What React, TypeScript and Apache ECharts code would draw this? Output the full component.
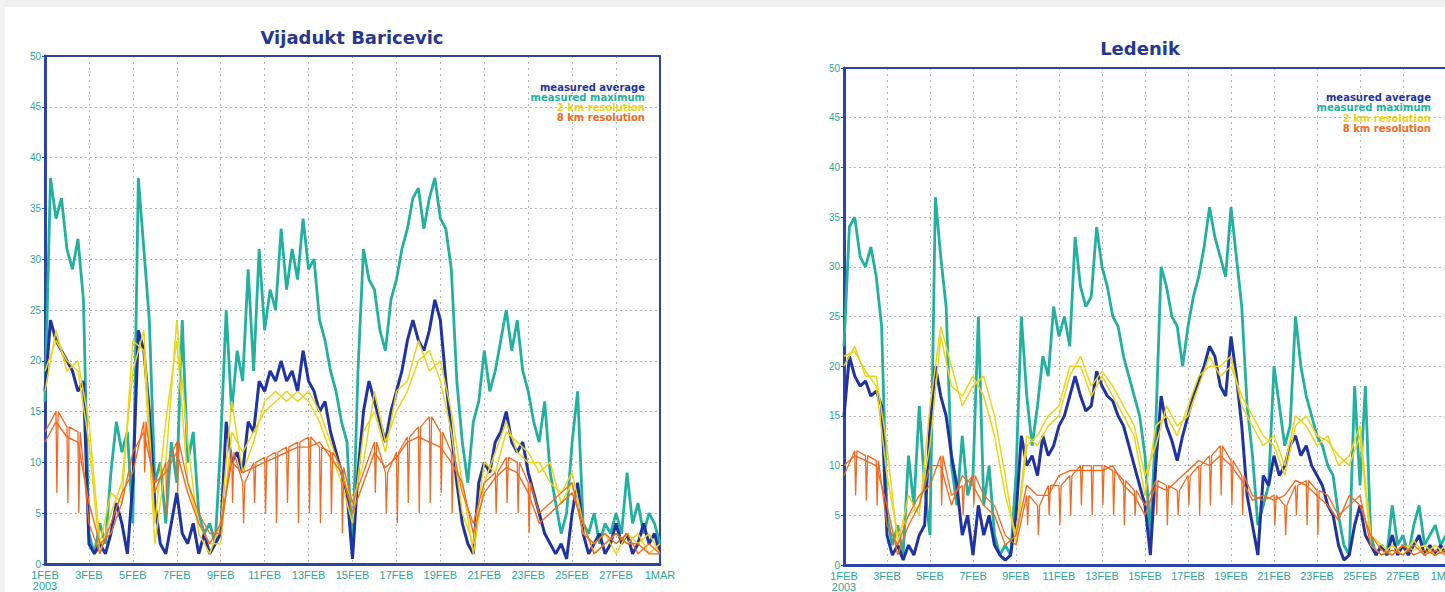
import React, { useEffect, useRef } from "react";
import * as echarts from "echarts";

// ---------- tick labels / texts ----------
const xTickLabels = ["1FEB", "3FEB", "5FEB", "7FEB", "9FEB", "11FEB", "13FEB", "15FEB", "17FEB", "19FEB", "21FEB", "23FEB", "25FEB", "27FEB", "1MAR"];
const yearLabel = "2003";
const panelTitles = ["Vijadukt Baricevic", "Ledenik"];
const legendLabels = ["measured average", "measured maximum", "2 km resolution", "8 km resolution"];

// ---------- Vijadukt Baricevic (step 0.25 day for measured, 0.5 day for model) ----------
const baricevicMax = [
  16, 38, 34, 36, 31, 29, 32, 26, 3, 1, 4, 2, 9, 14, 11, 13,
  4, 38, 31, 24, 8, 10, 4, 12, 8, 24, 10, 13, 5, 3, 4, 2,
  12, 25, 15, 21, 18, 29, 19, 31, 23, 27, 25, 33, 27, 31, 28, 34,
  29, 30, 24, 22, 19, 17, 14, 12, 1, 19, 31, 28, 27, 23, 21, 26,
  28, 31, 33, 36, 37, 33, 36, 38, 34, 33, 29, 18, 12, 8, 14, 16,
  21, 17, 19, 22, 25, 21, 24, 19, 17, 14, 12, 16, 9, 6, 3, 5,
  12, 17, 4, 3, 5, 2, 4, 3, 5, 3, 9, 4, 6, 3, 5, 4,
  2,
];
const baricevicAvg = [
  17, 24, 22, 21, 20, 19, 17, 18, 2, 1, 2, 1, 3, 6, 4, 1,
  8, 23, 21, 15, 6, 2, 1, 4, 7, 3, 2, 4, 1, 3, 1, 2,
  3, 14, 10, 11, 9, 14, 13, 18, 17, 19, 18, 20, 18, 19, 17, 21,
  18, 17, 15, 16, 13, 11, 9, 7, 0.5, 9, 15, 18, 16, 14, 12, 15,
  17, 19, 22, 24, 22, 21, 23, 26, 24, 18, 13, 8, 4, 2, 1, 8,
  10, 9, 12, 13, 15, 12, 11, 12, 9, 7, 5, 3, 2, 1, 2, 0.5,
  5, 8, 3, 1, 2, 3, 1, 2, 4, 2, 3, 1, 2, 4, 2, 3,
  1,
];
const baricevic2kmA = [
  19, 22, 20, 19, 12, 1, 5, 8, 19, 23, 4, 14, 22, 8, 4, 2,
  2, 13, 11, 13, 15, 16, 17, 16, 17, 15, 12, 9, 6, 10, 17, 12,
  15, 17, 20, 21, 18, 13, 5, 2, 10, 9, 13, 12, 11, 9, 10, 6,
  8, 3, 2, 3, 1, 3, 2, 3, 1,
];
const baricevic2kmB = [
  17, 23, 19, 20, 14, 2, 7, 6, 22, 21, 2, 10, 24, 12, 3, 1,
  4, 16, 9, 12, 16, 17, 16, 17, 16, 14, 11, 8, 4, 13, 15, 11,
  17, 18, 22, 19, 20, 15, 8, 1, 8, 11, 14, 11, 10, 10, 8, 7,
  9, 4, 1, 2, 3, 2, 3, 1, 2,
];
const baricevic8kmA = [
  13, 15, 13.5, 13, 4, 1, 4, 7, 9, 14, 7, 10, 12, 8, 5, 3,
  3, 11, 8, 10, 10.5, 11, 11.5, 12, 12.5, 11.5, 11, 9.5, 6, 9, 12, 9,
  11, 12.5, 13.5, 14.5, 13, 11, 7, 4, 8, 9, 10.5, 10, 8, 5, 6, 7,
  8, 3, 2, 3, 2, 3, 1, 2, 1,
];
const baricevic8kmB = [
  12, 14, 12.5, 12, 6, 2, 3, 6, 11, 13, 8, 9, 11, 7, 4, 2,
  4, 10, 9, 9.5, 10, 10.5, 11, 11.5, 11.5, 12, 10.5, 9, 5, 8, 11, 9.5,
  10.5, 12, 12.5, 12, 11.5, 10, 8, 3, 7, 8.5, 9.5, 9, 7, 4, 5, 6,
  7, 4, 1, 2, 3, 2, 2, 1, 1,
];
// lowest value of the 8 km run-start dips (null = no dip visible)
const baricevic8kmDips = [
  null, 7, 6, 5, null, null, null, null, null, 9, null, 5, 7, null, null, null,
  null, 6, 4, 6, 5, 4, 6, 4, 5, 4, 5, 3, null, null, 7, 5,
  4, 6, 5, 6, 7, 5, null, null, null, 5, 6, 5, 3, null, null, null,
  null, null, null, null, null, null, null, null, null,
];

// ---------- Ledenik ----------
const ledenikMax = [
  22, 34, 35, 31, 30, 32, 29, 24, 5, 2, 4, 1, 11, 6, 16, 8,
  3, 37, 31, 26, 10, 6, 13, 7, 9, 25, 6, 10, 3, 1, 2, 1,
  9, 25, 17, 12, 16, 21, 19, 26, 23, 25, 22, 33, 28, 26, 27, 34,
  30, 28, 25, 24, 21, 19, 17, 15, 11, 3, 14, 30, 28, 25, 24, 20,
  24, 27, 29, 32, 36, 33, 31, 29, 36, 31, 26, 16, 11, 4, 6, 8,
  20, 16, 12, 14, 25, 20, 17, 15, 13, 12, 10, 9, 5, 2, 1, 18,
  8, 18, 3, 1, 2, 1, 6, 2, 3, 1, 4, 6, 2, 3, 4, 2,
  3,
];
const ledenikAvg = [
  15, 21, 19, 18, 18.5, 17, 17.5, 16, 3, 1, 2, 0.5, 2, 1, 3, 4,
  14, 20, 17, 15, 11, 8, 3, 5, 1, 6, 3, 5, 2, 1, 0.5, 1,
  5, 13, 10, 11, 9, 13, 11, 12, 14, 15, 17, 19, 17, 15.5, 16, 19.5,
  18, 17, 16.5, 15, 14, 12, 10, 8, 6, 1, 10, 17, 14, 12.5, 10.5, 13,
  15, 17, 18.5, 20, 22, 21, 18, 17, 23, 19, 14, 7, 4, 1, 9, 8,
  11, 9, 10, 12, 13, 11, 12, 10, 9, 8, 6, 5, 2, 0.5, 1, 4,
  6, 3, 2, 1, 2, 1, 3, 1, 2, 1, 2, 3, 1, 2, 1, 2,
  1,
];
const ledenik2kmA = [
  21, 21.5, 19.5, 18, 9, 3, 5, 6, 12, 23, 18, 17, 19, 17, 13, 7,
  3, 13, 12, 14, 15, 19, 21, 18, 19.5, 18, 16, 14, 9, 12, 16, 14,
  15, 18, 21, 19, 20, 17, 15, 13, 12, 9, 14, 15, 13, 12.5, 11, 10,
  13, 2, 1, 2, 1, 2.5, 1, 2, 1,
];
const ledenik2kmB = [
  20, 22, 19, 19, 12, 2, 7, 5, 16, 24, 20, 16, 18, 19, 15, 9,
  2, 12, 13, 15, 16, 20, 20, 17, 19, 17, 15, 13, 7, 14, 15, 13,
  16, 19, 20, 20, 21, 16, 14, 12, 13, 10, 15, 14, 12, 13, 10, 11,
  14, 3, 2, 1, 2, 1.5, 2, 1, 2,
];
const ledenik8kmA = [
  9, 11.5, 11, 10.5, 4, 2, 5, 7, 8, 11, 7, 8, 9, 7, 6, 3,
  2, 7, 6, 8, 8, 9, 10, 10, 10, 9.5, 8.5, 7.5, 6, 8.5, 8, 7.5,
  9, 10, 11, 12, 10.5, 9, 7, 6.5, 7, 6, 8, 8.5, 7.5, 7, 5, 6,
  7, 2, 1, 1.5, 1, 2, 1, 1.5, 1,
];
const ledenik8kmB = [
  10, 11, 10.5, 10, 6, 1, 4, 6, 10, 10, 6, 9, 8, 6, 5, 2,
  3, 8, 7, 7, 9, 9.5, 9.5, 9.5, 9.5, 10, 8, 7, 5, 8, 7.5, 8.5,
  9.5, 10.5, 10, 11, 10, 8.5, 6.5, 7, 6.5, 7, 8.5, 8, 7, 6, 4.5, 7,
  6, 3, 1.5, 1, 2, 1, 1.5, 1, 1.5,
];
const ledenik8kmDips = [
  null, 7, 6.5, 6, null, null, null, null, null, 6, null, 5, 6, null, null, null,
  null, 4, 3, 5, 4, 5, 6, 5, 6, 5, 4, 5, null, 5, 4, 5,
  6, 5, 6, 7, 6, 5, null, null, 4, 3, 5, 4, 3, null, null, null,
  null, null, null, null, null, null, null, null, null,
];

// ---------- styling ----------
const C_AVG = "#1f33a3";
const C_MAX = "#22b09f";
const C_2KM = "#ecd41a";
const C_8KM = "#f26a22";
const C_FRAME = "#2a44a8";
const C_LABEL = "#2ba696";
const C_TITLE = "#27378f";
const LEGEND_COLORS = [C_AVG, C_MAX, C_2KM, C_8KM];

const MEAS_STEP = 0.25;
const MODEL_STEP = 0.5;

const pairs = (vals: number[], step: number) => vals.map((v, i) => [i * step, v]);
const withDips = (vals: number[], dips: (number | null)[], step: number) => {
  const out: number[][] = [];
  vals.forEach((v, i) => {
    const d = i * step;
    out.push([d, v]);
    const s = dips[i];
    if (s != null && i < vals.length - 1) {
      out.push([d + 0.04, s]);
      out.push([d + 0.1, v]);
    }
  });
  return out;
};

const panels = [
  { max: baricevicMax, avg: baricevicAvg, y2a: baricevic2kmA, y2b: baricevic2kmB, o8a: baricevic8kmA, o8b: baricevic8kmB, dips: baricevic8kmDips },
  { max: ledenikMax, avg: ledenikAvg, y2a: ledenik2kmA, y2b: ledenik2kmB, o8a: ledenik8kmA, o8b: ledenik8kmB, dips: ledenik8kmDips },
];

const gridBoxes = [
  { left: 45, top: 56, width: 615, height: 508 },
  { left: 844, top: 68, width: 602, height: 497 },
];
const titlePos = [
  [352, 37],
  [1140, 48],
];
const legendPos = [
  [645, 87, 10.3],
  [1431, 97, 10.5],
];

export default function App() {
  const ref = useRef<HTMLDivElement>(null);

  useEffect(() => {
    if (!ref.current) return;
    const chart = echarts.init(ref.current, undefined, { renderer: "svg" });

    const labelFont = "'Liberation Sans Narrow', 'Liberation Sans', Arial, sans-serif";

    const grids = gridBoxes.map((g) => ({
      ...g,
      show: true,
      borderColor: C_FRAME,
      borderWidth: 0,
      backgroundColor: "#ffffff",
      containLabel: false,
      outerBoundsMode: "none",
    }));

    const xAxes: any[] = gridBoxes.map((_, gi) => ({
      type: "value",
      gridIndex: gi,
      min: 0,
      max: 28,
      interval: 2,
      axisLine: { show: true, onZero: false, lineStyle: { color: C_FRAME, width: 3 } },
      axisTick: { show: false },
      axisLabel: {
        color: C_LABEL,
        fontSize: 11,
        fontFamily: labelFont,
        margin: 5,
        lineHeight: 11,
        formatter: (v: number) => {
          const idx = Math.round(v / 2);
          const t = xTickLabels[idx] ?? "";
          return idx === 0 ? t + "\n" + yearLabel : t;
        },
      },
      splitLine: { show: true, lineStyle: { color: "#b5b5b5", width: 1, type: [2, 4] } },
      z: 3,
    }));
    // top frame edges
    gridBoxes.forEach((_, gi) => {
      xAxes.push({
        type: "value",
        gridIndex: gi,
        position: "top",
        min: 0,
        max: 28,
        interval: 2,
        axisLine: { show: true, onZero: false, lineStyle: { color: C_FRAME, width: 2 } },
        axisTick: { show: false },
        axisLabel: { show: false },
        splitLine: { show: false },
        z: 3,
      });
    });

    const yAxes: any[] = gridBoxes.map((_, gi) => ({
      type: "value",
      gridIndex: gi,
      min: 0,
      max: 50,
      interval: 5,
      axisLine: { show: true, onZero: false, lineStyle: { color: C_FRAME, width: 3 } },
      axisTick: { show: true, length: 3, lineStyle: { color: C_FRAME, width: 1 } },
      axisLabel: { color: C_LABEL, fontSize: 10, fontFamily: labelFont, margin: 4 },
      splitLine: { show: true, lineStyle: { color: "#b5b5b5", width: 1, type: [2, 3] } },
      z: 3,
    }));
    // right frame edges
    gridBoxes.forEach((_, gi) => {
      yAxes.push({
        type: "value",
        gridIndex: gi,
        position: "right",
        min: 0,
        max: 50,
        interval: 5,
        axisLine: { show: true, onZero: false, lineStyle: { color: C_FRAME, width: 2 } },
        axisTick: { show: false },
        axisLabel: { show: false },
        splitLine: { show: false },
        z: 3,
      });
    });

    const series: any[] = [];
    panels.forEach((p, gi) => {
      const base = { type: "line", xAxisIndex: gi, yAxisIndex: gi, showSymbol: false, symbol: "none", silent: true };
      series.push({ ...base, name: legendLabels[1], data: pairs(p.max, MEAS_STEP), lineStyle: { color: C_MAX, width: 2.8 } });
      series.push({ ...base, name: legendLabels[0], data: pairs(p.avg, MEAS_STEP), lineStyle: { color: C_AVG, width: 3 } });
      series.push({ ...base, name: legendLabels[2], data: pairs(p.y2a, MODEL_STEP), lineStyle: { color: C_2KM, width: 1.5 } });
      series.push({ ...base, name: legendLabels[2] + " b", data: pairs(p.y2b, MODEL_STEP), lineStyle: { color: C_2KM, width: 1.5 } });
      series.push({ ...base, name: legendLabels[3], data: withDips(p.o8a, p.dips, MODEL_STEP), lineStyle: { color: C_8KM, width: 1.3 } });
      series.push({ ...base, name: legendLabels[3] + " b", data: pairs(p.o8b, MODEL_STEP), lineStyle: { color: C_8KM, width: 1.4 } });
    });

    const graphic: any[] = [
      { type: "rect", shape: { x: 0, y: 0, width: 1445, height: 7 }, style: { fill: "#efefef" }, silent: true },
      { type: "rect", shape: { x: 0, y: 0, width: 5, height: 592 }, style: { fill: "#f2f2f2" }, silent: true },
    ];
    panelTitles.forEach((t, i) => {
      graphic.push({
        type: "text",
        x: titlePos[i][0],
        y: titlePos[i][1],
        style: {
          text: t,
          fill: C_TITLE,
          font: "bold 18px 'DejaVu Sans', sans-serif",
          textAlign: "center",
          textVerticalAlign: "middle",
        },
      });
    });
    legendPos.forEach(([lx, ly, gap]) => {
      legendLabels.forEach((l, k) => {
        graphic.push({
          type: "text",
          x: lx,
          y: ly + k * gap,
          style: {
            text: l,
            fill: LEGEND_COLORS[k],
            font: "bold 10px 'DejaVu Sans', sans-serif",
            textAlign: "right",
            textVerticalAlign: "middle",
          },
        });
      });
    });

    chart.setOption({
      animation: false,
      backgroundColor: "#ffffff",
      grid: grids,
      xAxis: xAxes,
      yAxis: yAxes,
      series,
      graphic,
    });

    return () => chart.dispose();
  }, []);

  return (
    <div
      ref={ref}
      style={{ position: "absolute", left: 0, top: 0, width: 1445, height: 592 }}
    />
  );
}
